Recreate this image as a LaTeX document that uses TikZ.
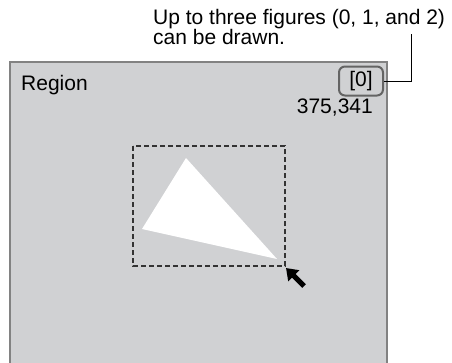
\documentclass[tikz,border=0pt]{standalone}
\usepackage{fontspec}
\setmainfont{Liberation Sans}
\usetikzlibrary{arrows.meta}
\definecolor{regionfill}{RGB}{208,209,211}
\definecolor{framegray}{RGB}{130,130,130}
\definecolor{keygray}{RGB}{100,100,100}
\begin{document}
\begin{tikzpicture}[x=1pt,y=-1pt,
    lbl/.style={inner sep=0pt, font=\fontsize{21}{20}\selectfont},
    keybox/.style={lbl, draw=keygray, line width=2pt, rounded corners=6pt, minimum width=44pt, minimum height=29pt}]
    \useasboundingbox (0,0) rectangle (452,362);

    % the region window, its bottom edge runs off the page
    \draw[draw=framegray, fill=regionfill, line width=1.5pt] (10,62) rectangle (387,370);
    \node[lbl, anchor=base west] (title) at (21,90.5) {Region};
    \node[keybox] (key) at (361,81) {[0]};
    \node[lbl, anchor=base east] (coords) at (373,113) {375,341};

    % the figure and its frame
    \fill[white] (186,158) -- (142,229) -- (277,259) -- cycle;
    \draw[black!80, line width=1.2pt, dash pattern=on 5pt off 3pt] (133,146) rectangle (285,266);
    \draw[line width=5pt, -{Triangle[length=11pt,width=15pt]}] (304,286) -- (286,268);

    % note and its leader line
    \node[lbl, anchor=north west, align=left] (note) at (153,9.5) {Up to three figures (0, 1, and 2)\\can be drawn.};
    \coordinate (bend) at (411,34);
    \draw[line width=0.8pt] (key.east) -| (bend);
\end{tikzpicture}
\end{document}
